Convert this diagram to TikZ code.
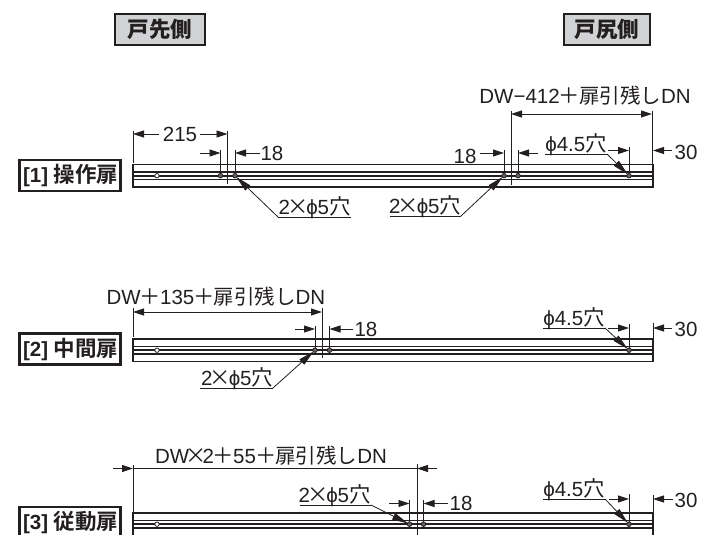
\documentclass[tikz,border=0pt]{standalone}
\usepackage{fontspec}
\setmainfont{Liberation Sans}
\newfontfamily\cjk[Scale=1.04]{Noto Sans CJK JP}
\newfontfamily\cjkt[Scale=1.0]{Noto Sans CJK JP}
\newfontfamily\cjkb[Scale=1.05]{Noto Sans CJK JP Black}
\usetikzlibrary{arrows.meta}
\definecolor{ink}{HTML}{231F20}
\definecolor{hdrgray}{HTML}{D1D2D4}
\newcommand{\hk}{{\cjk 穴}}
\newcommand{\mul}[1]{\hspace{-#1pt}{\cjk ×}\hspace{-#1pt}}
\newcommand{\plusg}{\hspace{-1pt}{\cjk ＋}\hspace{-1pt}}
\newcommand{\twofive}{2\mul{2.5}ϕ5\hk}
\newcommand{\fourfive}{ϕ4.5\hk}
\newcommand{\tailtext}{{\cjkt 扉引残し}DN}
\newcommand{\railbody}[2]{%
  \coordinate (#1tl) at (133,#2);
  \coordinate (#1br) at (653,#2+22.5);
  \coordinate (#1a1) at (133,#2+7.5); \coordinate (#1a2) at (653,#2+7.5);
  \coordinate (#1b1) at (133,#2+11.2); \coordinate (#1b2) at (653,#2+11.2);
  \coordinate (#1c1) at (133,#2+15); \coordinate (#1c2) at (653,#2+15);
  \draw[railline] (#1tl) rectangle (#1br);
  \draw[railline] (#1a1) -- (#1a2);
  \draw[railmid] (#1b1) -- (#1b2);
  \draw[railline] (#1c1) -- (#1c2);
  \node[openhole] (#1h0) at (157,#2+11.2) {};
}
\tikzset{
  every node/.style={text=ink},
  railline/.style={draw=ink,line width=1.25pt},
  railmid/.style={draw=ink,line width=1.8pt},
  openhole/.style={circle,draw=ink,fill=white,line width=.8pt,inner sep=0,minimum size=4.4pt},
  hole/.style={circle,draw=ink,fill=ink!70,line width=.8pt,inner sep=0,minimum size=4.6pt},
  ext/.style={draw=ink,line width=.8pt},
  dimline/.style={draw=ink,line width=.8pt,-{Stealth[length=11pt,width=7pt,inset=0pt]}},
  plain/.style={draw=ink,line width=.8pt},
  leader/.style={draw=ink,line width=.8pt,-{Stealth[length=16pt,width=7pt,inset=0pt]},shorten >=-1pt},
  lbl/.style={font=\fontsize{20.5}{20.5}\selectfont,inner sep=0pt,anchor=base},
  hdr/.style={draw=ink,line width=2.6pt,fill=hdrgray,font=\cjkb\fontsize{20.5}{20.5}\selectfont,inner sep=0pt,minimum width=#1,minimum height=31pt},
  tag/.style={draw=ink,line width=2.6pt,fill=white,font=\fontsize{20.5}{20.5}\selectfont\bfseries,inner sep=0pt,minimum width=101pt,minimum height=31pt},
}
\begin{document}
\begin{tikzpicture}[x=1pt,y=-1pt]
\useasboundingbox (0,0) rectangle (713,535);
\clip (0,0) rectangle (713,535);
% headers
\node[hdr=90pt] (h1) at (160,29.5) {戸先側};
\node[hdr=86pt] (h2) at (607,29.5) {戸尻側};

% ---- rail 1
\railbody{a}{164.5}
\node[hole] (ah1) at (220.5,175.7) {};
\node[hole] (ah2) at (235,175.7) {};
\node[hole] (ah3) at (504,175.7) {};
\node[hole] (ah4) at (518,175.7) {};
\node[hole] (ah5) at (629,175.7) {};
\node[tag] (t1) at (70,175.5) {\hspace{1.5pt}[1] {\cjkb 操作扉}};
% 215
\coordinate (a215a) at (133,134); \coordinate (a215b) at (227.5,134);
\coordinate (a215at) at (133,131); \coordinate (a215ab) at (133,163);
\coordinate (a215bt) at (227.5,131); \coordinate (a215bb) at (227.5,184);
\coordinate (a215l) at (159,134); \coordinate (a215r) at (200,134);
\draw[ext] (a215at) -- (a215ab);
\draw[ext] (a215bt) -- (a215bb);
\draw[dimline] (a215l) -- (a215a);
\draw[dimline] (a215r) -- (a215b);
\node[lbl] (a215t) at (180,141.5) {215};
% left 18
\coordinate (a18a) at (220.5,153); \coordinate (a18b) at (235,153);
\coordinate (a18at) at (220.5,150); \coordinate (a18bt) at (235,150);
\coordinate (a18l) at (200,153); \coordinate (a18r) at (260,153);
\draw[ext] (a18at) -- (ah1);
\draw[ext] (a18bt) -- (ah2);
\draw[dimline] (a18l) -- (a18a);
\draw[dimline] (a18r) -- (a18b);
\node[lbl] (a18t) at (272,160.5) {18};
% left leader
\coordinate (au1) at (351,217); \coordinate (au2) at (278,217);
\draw[plain] (au1) -- (au2);
\draw[leader] (au2) -- (ah2);
\node[lbl] (au) at (314.5,214.5) {\twofive};
% DW-412
\coordinate (adw1) at (511,114); \coordinate (adw2) at (652,114);
\coordinate (adw1t) at (511,111); \coordinate (adw1b) at (511,185);
\coordinate (adw2t) at (652,111); \coordinate (adw2b) at (652,164.5);
\coordinate (adwm) at (581,114);
\draw[ext] (adw1t) -- (adw1b);
\draw[ext] (adw2t) -- (adw2b);
\draw[dimline] (adwm) -- (adw1);
\draw[dimline] (adwm) -- (adw2);
\node[lbl] (adwt) at (585,104) {DW−412\plusg\tailtext};
% right 18
\coordinate (ac18a) at (504,153); \coordinate (ac18b) at (518,153);
\coordinate (ac18at) at (504,150); \coordinate (ac18bt) at (518,150);
\coordinate (ac18l) at (480,153); \coordinate (ac18r) at (538,153);
\draw[ext] (ac18at) -- (ah3);
\draw[ext] (ac18bt) -- (ah4);
\draw[dimline] (ac18l) -- (ac18a);
\draw[dimline] (ac18r) -- (ac18b);
\node[lbl] (ac18t) at (465,163.5) {18};
% 2x5 right
\coordinate (av1) at (390,216); \coordinate (av2) at (461,216);
\draw[plain] (av1) -- (av2);
\draw[leader] (av2) -- (ah3);
\node[lbl] (avt) at (425,213.5) {\twofive};
% phi 4.5
\coordinate (ap1) at (545,154); \coordinate (ap2) at (607,154);
\draw[plain] (ap1) -- (ap2);
\draw[leader] (ap2) -- (ah5);
\node[lbl] (apt) at (576,151) {\fourfive};
% 30
\coordinate (a30a) at (629,150.5); \coordinate (a30b) at (653,150.5);
\coordinate (a30at) at (629,147);
\coordinate (a30l) at (608,150.5); \coordinate (a30r) at (672,150.5);
\draw[ext] (a30at) -- (ah5);
\draw[dimline] (a30l) -- (a30a);
\draw[dimline] (a30r) -- (a30b);
\node[lbl] (a30t) at (686,159) {30};

% ---- rail 2
\railbody{b}{339}
\node[hole] (bh1) at (315,350.2) {};
\node[hole] (bh2) at (329.5,350.2) {};
\node[hole] (bh3) at (629,350.2) {};
\node[tag] (t2) at (70,349) {\hspace{1.5pt}[2] {\cjkb 中間扉}};
\coordinate (bdw1) at (133,312); \coordinate (bdw2) at (322,312);
\coordinate (bdw1t) at (133,308); \coordinate (bdw1b) at (133,337);
\coordinate (bdw2t) at (322,308); \coordinate (bdw2b) at (322,358);
\coordinate (bdwm) at (230,312);
\draw[ext] (bdw1t) -- (bdw1b);
\draw[ext] (bdw2t) -- (bdw2b);
\draw[dimline] (bdwm) -- (bdw1);
\draw[dimline] (bdwm) -- (bdw2);
\node[lbl] (bdwt) at (216,304.5) {DW\plusg 135\plusg\tailtext};
\coordinate (b18a) at (315,329); \coordinate (b18b) at (329.5,329);
\coordinate (b18at) at (315,326); \coordinate (b18bt) at (329.5,326);
\coordinate (b18l) at (295,329); \coordinate (b18r) at (353,329);
\draw[ext] (b18at) -- (bh1);
\draw[ext] (b18bt) -- (bh2);
\draw[dimline] (b18l) -- (b18a);
\draw[dimline] (b18r) -- (b18b);
\node[lbl] (b18t) at (366,336) {18};
\coordinate (bu1) at (200,388); \coordinate (bu2) at (273,388);
\draw[plain] (bu1) -- (bu2);
\draw[leader] (bu2) -- (bh1);
\node[lbl] (but) at (237,385.5) {\twofive};
\coordinate (bp1) at (543,328); \coordinate (bp2) at (605,328);
\draw[plain] (bp1) -- (bp2);
\draw[leader] (bp2) -- (bh3);
\node[lbl] (bpt) at (574,325) {\fourfive};
\coordinate (b30a) at (629,328); \coordinate (b30b) at (653,328);
\coordinate (b30at) at (629,324); \coordinate (b30bt) at (653,323); \coordinate (b30bb) at (653,339);
\coordinate (b30l) at (608,328); \coordinate (b30r) at (672,328);
\draw[ext] (b30at) -- (bh3);
\draw[ext] (b30bt) -- (b30bb);
\draw[dimline] (b30l) -- (b30a);
\draw[dimline] (b30r) -- (b30b);
\node[lbl] (b30t) at (686,336) {30};

% ---- rail 3
\railbody{c}{513}
\node[hole] (ch1) at (409.5,524.2) {};
\node[hole] (ch2) at (423.5,524.2) {};
\node[hole] (ch3) at (629,524.2) {};
\node[tag] (t3) at (70,522.5) {\hspace{1.5pt}[3] {\cjkb 従動扉}};
\coordinate (cdw1) at (133,468.5); \coordinate (cdw2) at (417,468.5);
\coordinate (cdw1t) at (133,465); \coordinate (cdw1b) at (133,512);
\coordinate (cdw2t) at (417,464); \coordinate (cdw2b) at (417,535);
\coordinate (cdwl) at (113,468.5); \coordinate (cdwr) at (437,468.5);
\draw[ext] (cdw1t) -- (cdw1b);
\draw[ext] (cdw2t) -- (cdw2b);
\draw[plain] (cdw1) -- (cdw2);
\draw[dimline] (cdwl) -- (cdw1);
\draw[dimline] (cdwr) -- (cdw2);
\node[lbl] (cdwt) at (271,463.5) {DW\mul{4}2\plusg 55\plusg\tailtext};
\coordinate (c18a) at (409.5,503.5); \coordinate (c18b) at (423.5,503.5);
\coordinate (c18at) at (409.5,500); \coordinate (c18bt) at (423.5,500);
\coordinate (c18l) at (389,503.5); \coordinate (c18r) at (448,503.5);
\draw[ext] (c18at) -- (ch1);
\draw[ext] (c18bt) -- (ch2);
\draw[dimline] (c18l) -- (c18a);
\draw[dimline] (c18r) -- (c18b);
\node[lbl] (c18t) at (461,510.5) {18};
\coordinate (cu1) at (300,505); \coordinate (cu2) at (371,505);
\draw[plain] (cu1) -- (cu2);
\draw[leader] (cu2) -- (ch1);
\node[lbl] (cut) at (334.5,502) {\twofive};
\coordinate (cp1) at (543,499); \coordinate (cp2) at (605,499);
\draw[plain] (cp1) -- (cp2);
\draw[leader] (cp2) -- (ch3);
\node[lbl] (cpt) at (574,496) {\fourfive};
\coordinate (c30a) at (629,499); \coordinate (c30b) at (653,499);
\coordinate (c30at) at (629,494); \coordinate (c30bt) at (653,495); \coordinate (c30bb) at (653,513);
\coordinate (c30l) at (609,499); \coordinate (c30r) at (673,499);
\draw[ext] (c30at) -- (ch3);
\draw[ext] (c30bt) -- (c30bb);
\draw[dimline] (c30l) -- (c30a);
\draw[dimline] (c30r) -- (c30b);
\node[lbl] (c30t) at (686,507) {30};
\end{tikzpicture}
\end{document}
